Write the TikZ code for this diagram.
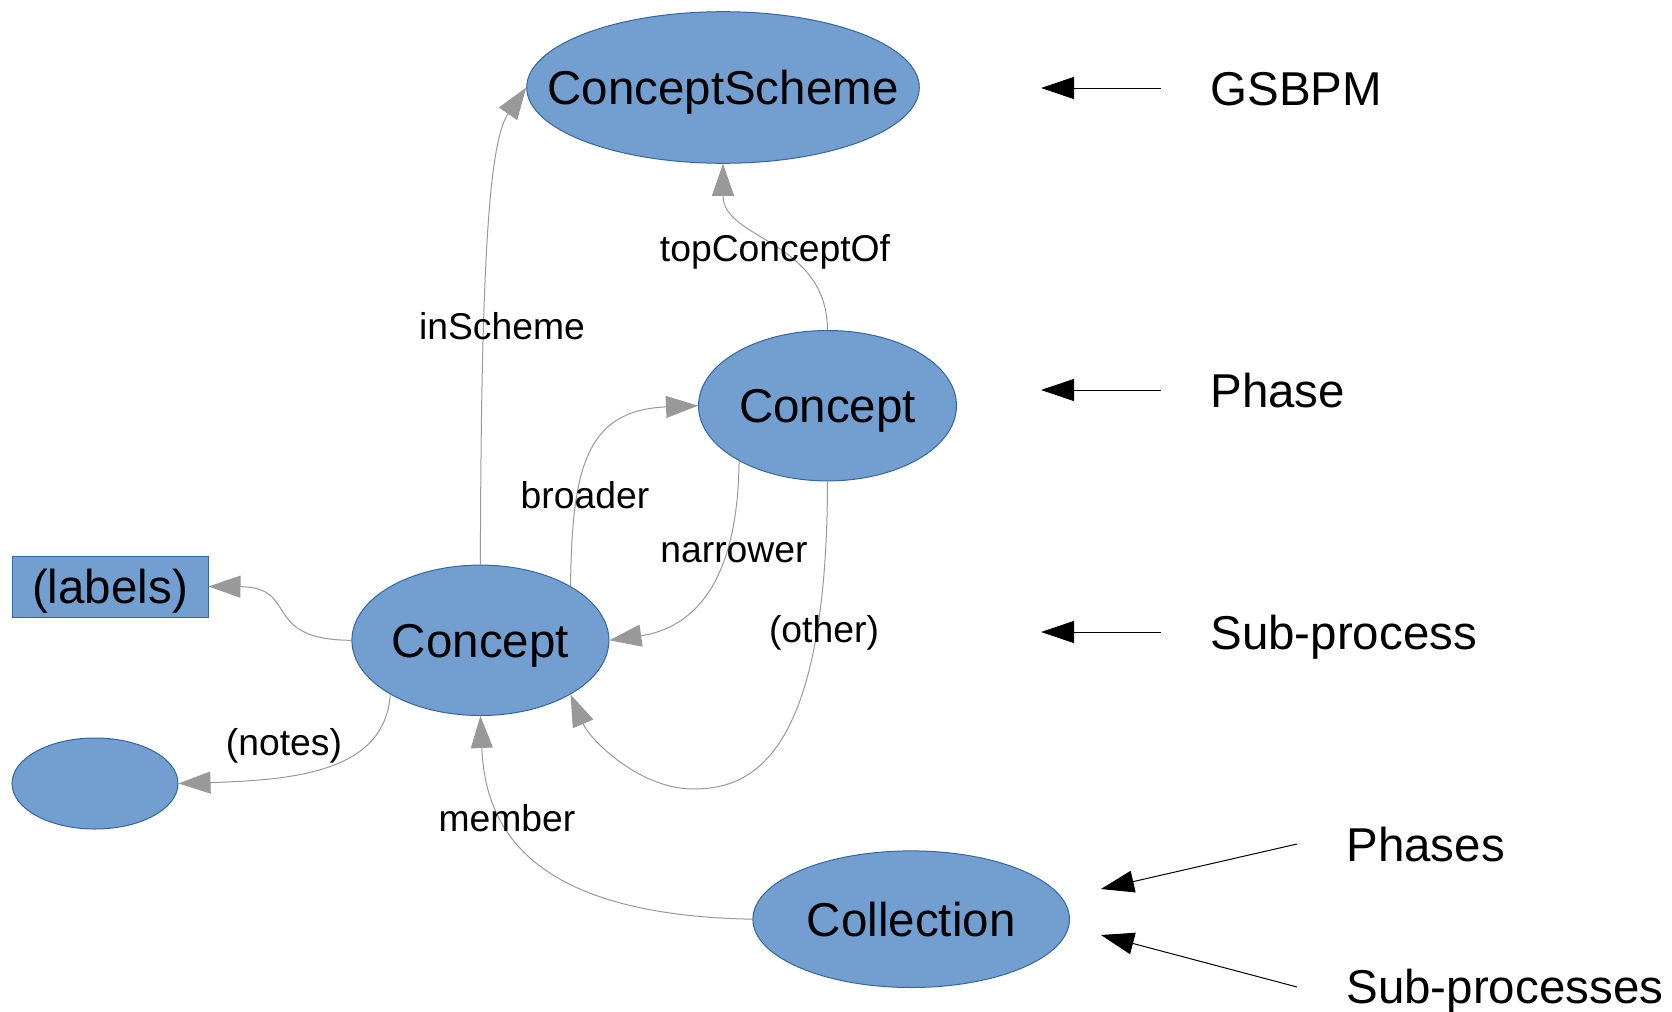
\documentclass[tikz,border=0pt]{standalone}
\usepackage{fontspec}
\setmainfont{Liberation Sans}
\usetikzlibrary{shapes.geometric}
\usetikzlibrary{arrows.meta}

\definecolor{nodefill}{HTML}{729FCF}
\definecolor{nodeline}{HTML}{3465A4}
\definecolor{relgray}{HTML}{999999}

\begin{document}
\begin{tikzpicture}[x=0.5pt, y=-0.5pt,
  blob/.style={ellipse, draw=nodeline, fill=nodefill, line width=0.5pt, inner sep=0pt,
    text height=17pt, text depth=0pt, font=\fontsize{23.75}{28}\selectfont},
  lbox/.style={rectangle, draw=nodeline, fill=nodefill, line width=0.5pt, inner sep=0pt,
    text height=17pt, text depth=0pt, font=\fontsize{23.75}{28}\selectfont},
  tag/.style={inner sep=0pt, text height=13.35pt, text depth=0pt, font=\fontsize{18.65}{22}\selectfont},
  side/.style={anchor=west, inner sep=0pt, text height=17pt, text depth=0pt, font=\fontsize{23.75}{28}\selectfont},
  rel/.style={draw=relgray, line width=0.5pt, -{Triangle[length=16pt,width=11pt,fill=relgray]}},
  pointer/.style={black, line width=0.5pt, -{Triangle[length=16.5pt,width=11pt]}}]
\useasboundingbox (0,0) rectangle (1672,1012);

% skos nodes
\node[blob, minimum width=196.3pt, minimum height=75.8pt] (scheme) at (723,87.5) {\makebox[0pt]{ConceptScheme}};
\node[blob, minimum width=129pt, minimum height=75.2pt] (phase) at (827.5,405.7) {\makebox[0pt]{Concept}};
\node[blob, minimum width=128.5pt, minimum height=75.2pt] (sub) at (480.4,640.3) {\makebox[0pt]{Concept}};
\node[blob, minimum width=158.3pt, minimum height=68.3pt] (coll) at (911.2,919.2) {\makebox[0pt]{Collection}};
\node[blob, minimum width=83pt, minimum height=45.5pt] (notes) at (95,783.5) {};
\node[lbox, minimum width=98pt, minimum height=30.5pt] (labels) at (110,586.5) {(labels)};

% relations
\draw[rel] (sub.north) .. controls (481,250) and (490,140) .. (scheme.west);
\draw[rel] (phase.north) .. controls (827,240) and (723,240) .. (scheme.south);
\draw[rel] (sub.31) .. controls (572,470) and (585,410) .. (phase.west);
\draw[rel] (phase.212) .. controls (738,600) and (680,630) .. (sub.east);
\draw[rel] (phase.south) .. controls (827,760) and (750,789) .. (693,789)
  .. controls (640,789) and (590,740) .. (sub.329);
\draw[rel] (sub.west) .. controls (260,640) and (300,587) .. (labels.east);
\draw[rel] (sub.211) .. controls (385,770) and (300,780) .. (notes.east);
\draw[rel] (coll.west) .. controls (520,915) and (485,820) .. (sub.south);

\node[tag] (t-top) at (775,248) {topConceptOf};
\node[tag] (t-in) at (502,326) {inScheme};
\node[tag] (t-broad) at (585,495) {broader};
\node[tag] (t-narrow) at (734,549) {narrower};
\node[tag] (t-other) at (824,629) {(other)};
\node[tag] (t-notes) at (284,742) {(notes)};
\node[tag] (t-member) at (507,818) {member};

% gsbpm levels
\node[side] (gsbpm) at (1210,88) {GSBPM};
\node[side] (lv-phase) at (1210,390) {Phase};
\node[side] (lv-sub) at (1210,632) {Sub-process};
\node[side] (lv-phases) at (1346,844) {Phases};
\node[side] (lv-subs) at (1346,986) {Sub-processes};

\coordinate (p1) at (1041,88);
\coordinate (p2) at (1041,390);
\coordinate (p3) at (1041,632);
\coordinate (p4a) at (1297,844);
\coordinate (p4) at (1101,889);
\coordinate (p5a) at (1297,987);
\coordinate (p5) at (1101,935);

\draw[pointer, shorten <=24.5pt] (gsbpm.west) -- (p1);
\draw[pointer, shorten <=24.5pt] (lv-phase.west) -- (p2);
\draw[pointer, shorten <=24.5pt] (lv-sub.west) -- (p3);
\draw[pointer] (p4a) -- (p4);
\draw[pointer] (p5a) -- (p5);
\end{tikzpicture}
\end{document}
